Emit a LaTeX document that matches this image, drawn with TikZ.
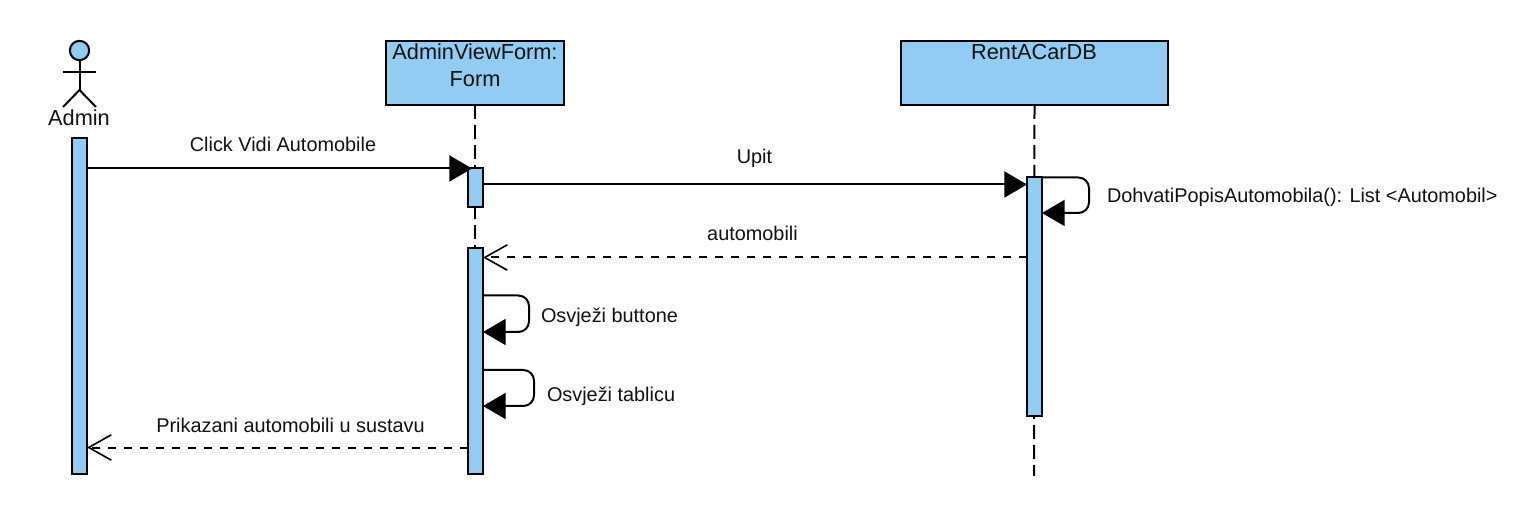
\documentclass[tikz,border=0pt]{standalone}
\usepackage{fontspec}
\setmainfont{Liberation Sans}
\usetikzlibrary{arrows.meta}
\definecolor{fillblue}{HTML}{92CCF3}
\definecolor{ink}{HTML}{000000}
\definecolor{textink}{HTML}{111111}
\tikzset{
  x=0.75pt,y=-0.75pt,
  every node/.style={text=textink,inner sep=0pt,outer sep=0pt},
  line/.style={draw=ink,line width=1.5pt},
  headbox/.style={line,fill=fillblue,minimum width=133.5pt,minimum height=48pt},
  bar/.style={line,fill=fillblue,minimum width=11.25pt},
  lifeline/.style={line,dash pattern=on 10.5pt off 4.5pt},
  call/.style={line,-{Triangle[length=17pt,width=19.5pt]}},
  reply/.style={line,dash pattern=on 6pt off 6pt,-{Straight Barb[length=17pt,width=19pt,line width=1.2pt]}},
  selfcall/.style={line,rounded corners=8pt,-{Triangle[length=17pt,width=19.5pt]}},
  msg/.style={font=\fontsize{14.9}{16}\selectfont},
  title/.style={font=\fontsize{16.3}{20.3}\selectfont,align=center},
}
\begin{document}
\begin{tikzpicture}
\useasboundingbox (0,0) rectangle (1524,509);
% participants
\node[headbox,anchor=north west] (form) at (386,41) {};
\node[title,anchor=north] at (475,44) {AdminViewForm:\\Form};
\node[headbox,anchor=north west,minimum width=200.25pt] (db) at (901,41) {};
\node[title,anchor=north] at (1034,44) {RentACarDB};
% lifeline ends
\coordinate (formend) at (475,470);
\coordinate (dbend) at (1034,476);
\draw[lifeline] (form.south) -- (formend);
\draw[lifeline] (db.south) -- (dbend);
% actor
\node[circle,line,fill=fillblue,minimum size=14.5pt] (head) at (79.5,50.5) {};
\coordinate (hip) at (79.5,90);
\coordinate (armL) at (63,72.5);
\coordinate (armR) at (96,72.5);
\coordinate (legL) at (63,107);
\coordinate (legR) at (96,107);
\draw[line] (head.south) -- (hip);
\draw[line] (armL) -- (armR);
\draw[line] (legL) -- (hip) -- (legR);
\node[title,anchor=base] (adminlabel) at (79,126) {Admin};
% activations
\node[bar,anchor=north,minimum height=252pt] (actA) at (79.5,138) {};
\node[bar,anchor=north,minimum height=29.25pt] (actF1) at (475.5,168.5) {};
\node[bar,anchor=north,minimum height=169.5pt] (actF2) at (475.5,248) {};
\node[bar,anchor=north,minimum height=179.25pt] (actD) at (1034.5,177.5) {};
% named message ends
\coordinate (m1a) at (actA.east |- 0,168.5);
\coordinate (m1b) at ([xshift=3pt]actF1.north west);
\coordinate (m2a) at (actF1.east |- 0,184.5);
\coordinate (m2b) at (actD.west |- 0,184.5);
\coordinate (r1a) at (actD.west |- 0,257.5);
\coordinate (r1b) at (actF2.east |- 0,257.5);
\coordinate (r2a) at (actF2.west |- 0,447.5);
\coordinate (r2b) at (actA.east |- 0,447.5);
% messages
\draw[call] (m1a) -- (m1b);
\draw[call] (m2a) -- (m2b);
\draw[reply] (r1a) -- (r1b);
\draw[reply] (r2a) -- (r2b);
\draw[selfcall] (actD.north east) -- (1089,177.5) -- (1089,213) -- (actD.east |- 0,213);
\draw[selfcall] (actF2.east |- 0,295.5) -- (529,295.5) -- (529,332) -- (actF2.east |- 0,332);
\draw[selfcall] (actF2.east |- 0,370) -- (534,370) -- (534,406) -- (actF2.east |- 0,406);
% labels
\node[msg,anchor=base] at (283,152) {Click Vidi Automobile};
\node[msg,anchor=base] at (754.5,164) {Upit};
\node[msg,anchor=base west] at (1107,202.5) {DohvatiPopisAutomobila(): List <Automobil>};
\node[msg,anchor=base] at (752.5,241) {automobili};
\node[msg,anchor=base west] at (541,322.5) {Osvježi buttone};
\node[msg,anchor=base west] at (547,402) {Osvježi tablicu};
\node[msg,anchor=base] at (290.5,432) {Prikazani automobili u sustavu};
\end{tikzpicture}
\end{document}
